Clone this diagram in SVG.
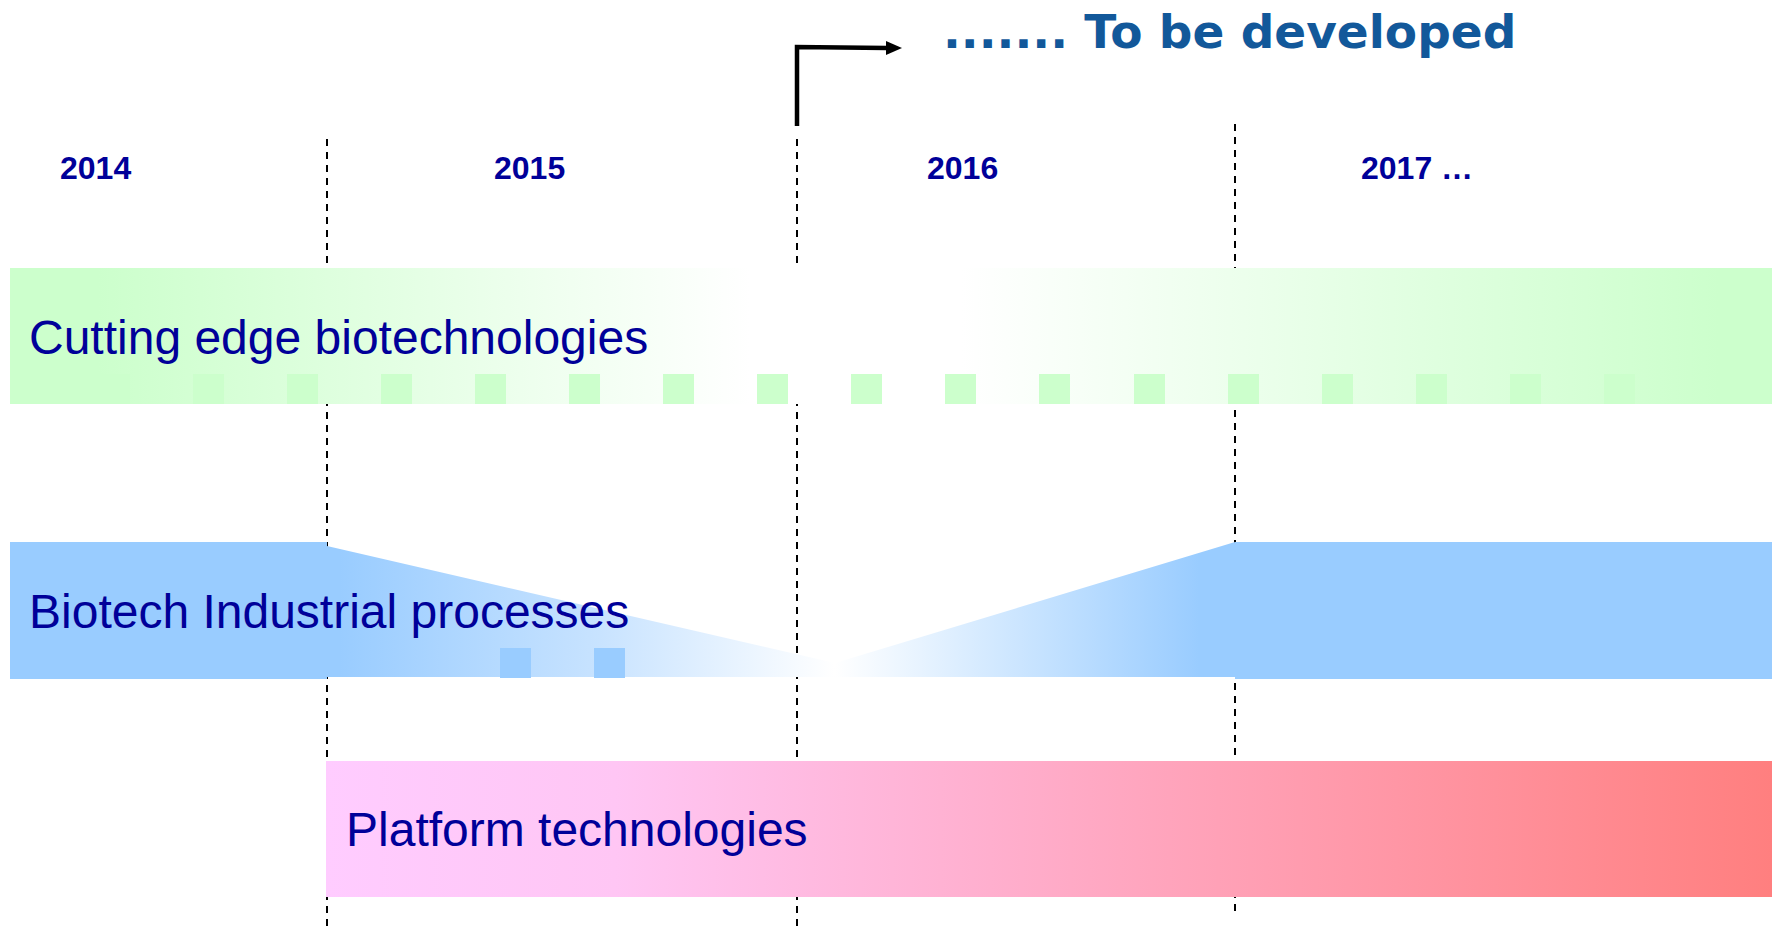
<svg xmlns="http://www.w3.org/2000/svg" width="1775" height="930" viewBox="0 0 1775 930">
<defs>
<style>
.year{font-family:"Liberation Sans",Arial,sans-serif;font-weight:bold;font-size:32px;fill:#000099}
.lbl{font-family:"Liberation Sans",Arial,sans-serif;font-size:48px;fill:#000099}
.dash{stroke:#000;stroke-width:2;stroke-dasharray:7 6;fill:none}
.gsq{fill:#CCFFCC}
.bsq{fill:#99CCFF}
</style>
<linearGradient id="gGreen" gradientUnits="userSpaceOnUse" x1="10" y1="0" x2="1772" y2="0">
<stop offset="0" stop-color="#CCFFCC"/>
<stop offset="0.05" stop-color="#CCFFCC"/>
<stop offset="0.42" stop-color="#FFFFFF"/>
<stop offset="0.54" stop-color="#FFFFFF"/>
<stop offset="0.97" stop-color="#CCFFCC"/>
<stop offset="1" stop-color="#CCFFCC"/>
</linearGradient>
<linearGradient id="gBlue" gradientUnits="userSpaceOnUse" x1="10" y1="0" x2="1772" y2="0">
<stop offset="0" stop-color="#99CCFF"/>
<stop offset="0.187" stop-color="#99CCFF"/>
<stop offset="0.335" stop-color="#C8E3FF"/>
<stop offset="0.468" stop-color="#FFFFFF"/>
<stop offset="0.675" stop-color="#99CCFF"/>
<stop offset="1" stop-color="#99CCFF"/>
</linearGradient>
<linearGradient id="gPink" gradientUnits="userSpaceOnUse" x1="326" y1="0" x2="1772" y2="0">
<stop offset="0" stop-color="#FFCCFF"/>
<stop offset="0.2" stop-color="#FFC6F4"/>
<stop offset="1" stop-color="#FF7F7F"/>
</linearGradient>
</defs>
<rect width="1775" height="930" fill="#FFFFFF"/>
<g id="connectors">
<line class="dash" x1="327" y1="139" x2="327" y2="930"/>
<line class="dash" x1="797" y1="139" x2="797" y2="930"/>
<line class="dash" x1="1235" y1="124" x2="1235" y2="917"/>
<path d="M797,126 V47 L887,48" stroke="#000" stroke-width="4.5" fill="none"/>
<polygon points="886,41 902,48 886,55" fill="#000"/>
</g>
<g id="years">
<text class="year" x="60" y="179">2014</text>
<text class="year" x="494" y="179">2015</text>
<text class="year" x="927" y="179">2016</text>
<text class="year" x="1361" y="179">2017 …</text>
</g>
<g id="title">
<text x="943" y="48" font-family="'DejaVu Sans',Verdana,sans-serif" font-weight="bold" font-size="47" fill="#12589A">....... To be developed</text>
</g>
<g id="cutting-edge">
<rect x="10" y="268" width="1762" height="136" fill="url(#gGreen)"/>
<rect class="gsq" x="99" y="374" width="31" height="30"/>
<rect class="gsq" x="193" y="374" width="31" height="30"/>
<rect class="gsq" x="287" y="374" width="31" height="30"/>
<rect class="gsq" x="381" y="374" width="31" height="30"/>
<rect class="gsq" x="475" y="374" width="31" height="30"/>
<rect class="gsq" x="569" y="374" width="31" height="30"/>
<rect class="gsq" x="663" y="374" width="31" height="30"/>
<rect class="gsq" x="757" y="374" width="31" height="30"/>
<rect class="gsq" x="851" y="374" width="31" height="30"/>
<rect class="gsq" x="945" y="374" width="31" height="30"/>
<rect class="gsq" x="1039" y="374" width="31" height="30"/>
<rect class="gsq" x="1134" y="374" width="31" height="30"/>
<rect class="gsq" x="1228" y="374" width="31" height="30"/>
<rect class="gsq" x="1322" y="374" width="31" height="30"/>
<rect class="gsq" x="1416" y="374" width="31" height="30"/>
<rect class="gsq" x="1510" y="374" width="31" height="30"/>
<rect class="gsq" x="1604" y="374" width="31" height="30"/>
<text class="lbl" x="29" y="354">Cutting edge biotechnologies</text>
</g>
<g id="biotech-industrial">
<polygon points="10,542 327,542 327,546 835,663 1235,542 1772,542 1772,679 1235,679 1235,677 327,677 327,679 10,679" fill="url(#gBlue)"/>
<rect class="bsq" x="500" y="648" width="31" height="30"/>
<rect class="bsq" x="594" y="648" width="31" height="30"/>
<text class="lbl" x="29" y="628">Biotech Industrial processes</text>
</g>
<g id="platform">
<rect x="326" y="761" width="1446" height="136" fill="url(#gPink)"/>
<text class="lbl" x="346" y="846">Platform technologies</text>
</g>
</svg>
